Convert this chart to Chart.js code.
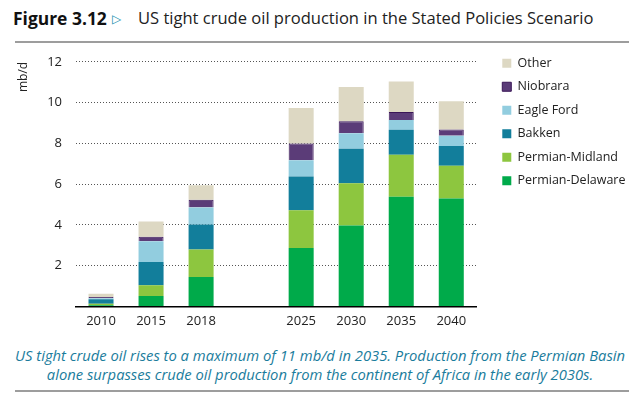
<!DOCTYPE html>
<html>
<head>
<meta charset="utf-8">
<script src="https://cdn.jsdelivr.net/npm/chart.js@4.4.1/dist/chart.umd.min.js"></script>
<style>
  body { margin: 0; background: #fff; }
  #page { position: relative; width: 640px; height: 395px; overflow: hidden; font-family: "Open Sans", sans-serif; }
  .rule { position: absolute; left: 15px; width: 614px; height: 2px; background: #9d9d9d; }
  #fig { position: absolute; left: 13px; top: 8px; font-weight: bold; font-size: 15px; line-height: 20px; color: #111; white-space: nowrap; }
  #tri { position: absolute; left: 112px; top: 9px; font-family: "DejaVu Sans", sans-serif; font-size: 12px; line-height: 20px; color: #1b8fb0; }
  #title { position: absolute; left: 138px; top: 8px; font-size: 15px; line-height: 20px; color: #222; white-space: nowrap; }
  .cap { position: absolute; left: 0; width: 640px; text-align: center; font-style: italic; color: #1a7c9c; font-size: 13px; line-height: 18px; white-space: nowrap; }
  #chartBox { position: absolute; left: 0; top: 40px; width: 640px; height: 300px; }
</style>
</head>
<body>
<div id="page">
  <div id="fig">Figure 3.12</div>
  <div id="tri">▷</div>
  <div id="title">US tight crude oil production in the Stated Policies Scenario</div>
  <div class="rule" style="top:41px"></div>
  <div id="chartBox"><canvas id="oilChart" width="640" height="300"></canvas></div>
  <div class="cap" style="top:346px"><span id="cap1">US tight crude oil rises to a maximum of 11 mb/d in 2035. Production from the Permian Basin</span></div>
  <div class="cap" style="top:365px"><span id="cap2">alone surpasses crude oil production from the continent of Africa in the early 2030s.</span></div>
  <div class="rule" style="top:390px"></div>
</div>
<script>
// mb/d; the blank slot is the gap between 2018 and 2025
const years = ["2010", "2015", "2018", "", "2025", "2030", "2035", "2040"];
const permianDelaware = [0.06, 0.52, 1.45, null, 2.87, 3.97, 5.38, 5.30];
const permianMidland  = [0.07, 0.52, 1.34, null, 1.85, 2.07, 2.06, 1.60];
const bakken          = [0.23, 1.14, 1.23, null, 1.66, 1.70, 1.23, 0.97];
const eagleFord       = [0.05, 1.02, 0.83, null, 0.79, 0.76, 0.48, 0.50];
const niobrara        = [0.05, 0.22, 0.38, null, 0.82, 0.59, 0.39, 0.31];
const other           = [0.16, 0.75, 0.72, null, 1.74, 1.68, 1.49, 1.39];
const yTicks = [0, 2, 4, 6, 8, 10, 12];

function fitText(id, width) {
  const el = document.getElementById(id);
  const w = el.getBoundingClientRect().width;
  const size = parseFloat(getComputedStyle(el).fontSize);
  const fitted = (size * width / w).toFixed(2) + "px";
  el.style.fontSize = fitted;
  return fitted;
}

function series(label, data, color, border) {
  return {
    label, data,
    backgroundColor: color,
    borderColor: border || color,
    borderWidth: border ? 1 : 0,
    xAxisID: "x", yAxisID: "y"
  };
}

function drawChart() {
  const font = { family: "Open Sans", size: 13 };
  const ctx = document.getElementById("oilChart").getContext("2d");
  new Chart(ctx, {
    type: "bar",
    data: {
      labels: years,
      datasets: [
        series("Permian-Delaware", permianDelaware, "#00aa4a"),
        series("Permian-Midland", permianMidland, "#8dc63f"),
        series("Bakken", bakken, "#127e9b"),
        series("Eagle Ford", eagleFord, "#92cddf"),
        series("Niobrara", niobrara, "#5b3c78", "#3a1657"),
        series("Other", other, "#ddd8c3")
      ]
    },
    options: {
      responsive: false,
      animation: false,
      datasets: { bar: { categoryPercentage: 1, barPercentage: 0.5 } },
      layout: { padding: { top: 6, left: 15, right: 4.5, bottom: 10.5 } },
      plugins: {
        legend: {
          position: "right",
          align: "start",
          reverse: true,
          maxWidth: 170,
          labels: {
            boxWidth: 9, boxHeight: 9, padding: 11, color: "#222",
            font: { family: "Open Sans", size: 12.5 }
          }
        },
        tooltip: { enabled: false }
      },
      scales: {
        x: {
          stacked: true,
          grid: { display: false, drawTicks: false },
          border: { color: "#000", width: 1.5 },
          ticks: { padding: 7, color: "#222", font },
          afterFit: (s) => { s.height = 23; }
        },
        y: {
          stacked: true,
          min: yTicks[0],
          max: yTicks[yTicks.length - 1],
          afterBuildTicks: (s) => { s.ticks = yTicks.map((v) => ({ value: v })); },
          ticks: { padding: 14, color: "#222", font, callback: (v) => (v === 0 ? "" : v) },
          grid: {
            drawTicks: false,
            lineWidth: 1,
            color: (c) => (c.tick && c.tick.value === 0 ? "rgba(0,0,0,0)" : "#555")
          },
          border: { display: false, dash: [1, 2] },
          title: {
            display: true, text: "mb/d", align: "end", color: "#222",
            font: { family: "Open Sans", size: 12 }, padding: { top: 1, bottom: 4 }
          },
          afterFit: (s) => { s.width = 61; }
        },
        // empty spacers so the plot sits where it does in the figure
        xTop: {
          type: "category", position: "top",
          grid: { display: false, drawTicks: false }, ticks: { display: false }, border: { display: false },
          afterFit: (s) => { s.height = 14; }
        },
        yRight: {
          type: "linear", position: "right",
          grid: { display: false, drawTicks: false }, ticks: { display: false }, border: { display: false },
          afterFit: (s) => { s.width = 15; }
        }
      }
    }
  });
}

fitText("fig", 94);
fitText("title", 456);
document.getElementById("cap2").style.fontSize = fitText("cap1", 610);
drawChart();
</script>
</body>
</html>
